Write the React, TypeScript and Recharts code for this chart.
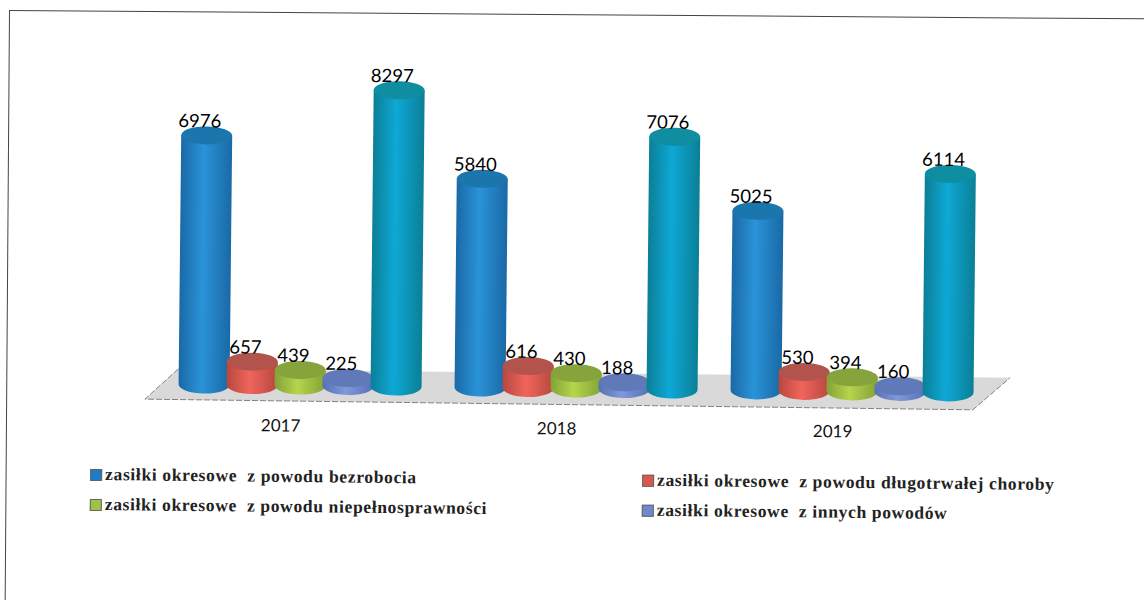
import React from "react";
import { BarChart, Bar, XAxis, YAxis, LabelList, Legend, ReferenceArea } from "recharts";

const years = ["2017", "2018", "2019"];
const unemployment = [6976, 5840, 5025];
const illness = [657, 616, 530];
const disability = [439, 430, 394];
const other = [225, 188, 160];
const total = [8297, 7076, 6114];

const seriesNames = [
  "zasiłki okresowe  z powodu bezrobocia",
  "zasiłki okresowe  z powodu długotrwałej choroby",
  "zasiłki okresowe  z powodu niepełnosprawności",
  "zasiłki okresowe  z innych powodów",
  "razem",
];

const rows = years.map((year, i) => ({
  year,
  unemployment: unemployment[i],
  illness: illness[i],
  disability: disability[i],
  other: other[i],
  total: total[i],
}));

const palette: Record<string, { edge: string; mid: string; cap: string; swatch: string }> = {
  unemployment: { edge: "#1a69a6", mid: "#2a93d8", cap: "#1c76ae", swatch: "#1f7cc4" },
  illness: { edge: "#b8473f", mid: "#f0655c", cap: "#b3544c", swatch: "#d9584e" },
  disability: { edge: "#82a336", mid: "#b6d44c", cap: "#87a33c", swatch: "#9cc24a" },
  other: { edge: "#5670b8", mid: "#8199da", cap: "#607ab9", swatch: "#6f8acb" },
  total: { edge: "#0b7f96", mid: "#0ea8d6", cap: "#0f8ea2", swatch: "#0ea0c8" },
};

const cylinder = (key: string) => (props: any) => {
  const { x, y, width, height } = props;
  const w = width + 3;
  const left = x - 1.5;
  const rx = w / 2;
  const ry = 9;
  const d = `M${left},${y} L${left},${y + height} A${rx},${ry} 0 0 0 ${left + w},${y + height} L${left + w},${y} Z`;
  return (
    <g>
      <path d={d} fill={`url(#grad-${key})`} />
      <ellipse cx={left + rx} cy={y} rx={rx} ry={ry} fill={palette[key].cap} />
    </g>
  );
};

const valueLabel = (props: any) => {
  const { x, y, width, value } = props;
  return (
    <text x={x + width / 2 - 7} y={y - 8} textAnchor="middle" fontFamily="Lato" fontSize={18.5} fill="#000">
      {value}
    </text>
  );
};

const floorShape = (props: any) => {
  const { x, y, width, height } = props;
  const bl = [x + 16, y];
  const br = [x + width + 20, y];
  const fr = [x + width - 17, y + height];
  const fl = [x - 17, y + height - 2];
  return (
    <g>
      <polygon points={[bl, br, fr, fl].map((p) => p.join(",")).join(" ")} fill="#d9d9d9" />
      <polyline points={[bl, fl, fr, br].map((p) => p.join(",")).join(" ")} fill="none" stroke="#777" strokeWidth={0.9} strokeDasharray="6 2" />
    </g>
  );
};

const legendContent = (props: any) => (
  <div style={{ display: "grid", gridTemplateColumns: "552px 1fr", rowGap: 9, fontFamily: "Liberation Serif", fontSize: 17.5, fontWeight: 700, color: "#222", letterSpacing: 0.65 }}>
    {props.payload
      .filter((item: any) => item.dataKey !== "total")
      .map((item: any) => (
        <div key={item.value} style={{ display: "flex", alignItems: "center", height: 21, whiteSpace: "pre" }}>
          <span style={{ width: 12, height: 12, marginRight: 3, background: palette[item.dataKey].swatch, border: "1px solid #666", boxSizing: "border-box" }} />
          {item.value}
        </div>
      ))}
  </div>
);

const keys = ["unemployment", "illness", "disability", "other", "total"];

export default function App() {
  return (
    <div style={{ position: "absolute", left: 0, top: 0, width: 1144, height: 600, overflow: "hidden", background: "#fff" }}>
      <div style={{ position: "absolute", left: 9, top: 10, width: 1200, height: 640, borderLeft: "1px solid #444", borderTop: "1px solid #444", boxSizing: "border-box", transform: "rotate(0.42deg)", transformOrigin: "0 0" }} />
      <div style={{ position: "absolute", left: 0, top: 0, width: 1144, height: 600, transform: "rotate(0.6deg)", transformOrigin: "8px 10px" }}>
        <BarChart width={1144} height={600} data={rows} margin={{ top: 61, right: 150, bottom: 117, left: 166 }} barCategoryGap={18} barGap={0}>
          <defs>
            {keys.map((k) => (
              <linearGradient key={k} id={`grad-${k}`} x1="0" x2="1" y1="0" y2="0">
                <stop offset="0%" stopColor={palette[k].edge} />
                <stop offset="45%" stopColor={palette[k].mid} />
                <stop offset="100%" stopColor={palette[k].edge} />
              </linearGradient>
            ))}
          </defs>
          <XAxis dataKey="year" axisLine={false} tickLine={false} height={30} tickMargin={28} tick={{ fill: "#111", fontFamily: "Lato", fontSize: 17, dx: -19 }} />
          <YAxis hide domain={[0, 9000]} />
          <ReferenceArea y1={-480} y2={430} ifOverflow="visible" fill="#d9d9d9" shape={floorShape} />
          <Legend content={legendContent} itemSorter={null} wrapperStyle={{ left: 95, top: 463, width: 1000, height: 60 }} />
          {keys.map((k, i) => (
            <Bar key={k} dataKey={k} name={seriesNames[i]} isAnimationActive={false} shape={cylinder(k)}>
              <LabelList dataKey={k} content={valueLabel} />
            </Bar>
          ))}
        </BarChart>
      </div>
    </div>
  );
}
